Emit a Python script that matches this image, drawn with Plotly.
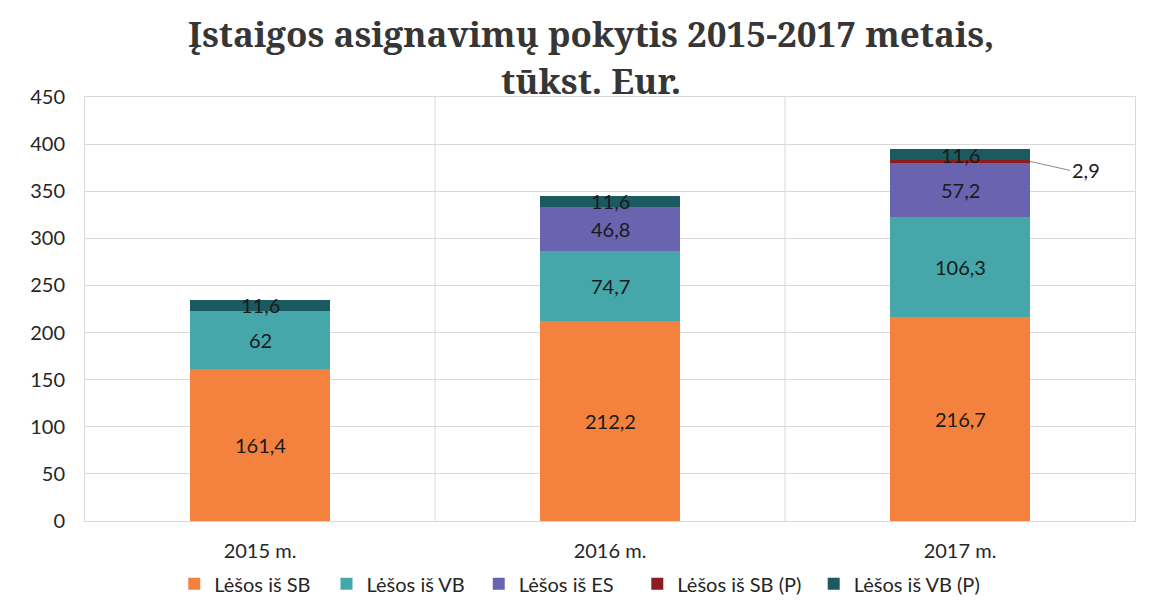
import plotly.graph_objects as go

categories = ["2015 m.", "2016 m.", "2017 m."]
series_names = ["Lėšos iš SB", "Lėšos iš VB", "Lėšos iš ES", "Lėšos iš SB (P)", "Lėšos iš VB (P)"]
sb = [161.4, 212.2, 216.7]
vb = [62, 74.7, 106.3]
es = [0, 46.8, 57.2]
sb_p = [0, 0, 2.9]
vb_p = [11.6, 11.6, 11.6]
colors = ["#F5813F", "#45A7AA", "#6A63AF", "#8C1C1E", "#1C5A62"]
y_ticks = [0, 50, 100, 150, 200, 250, 300, 350, 400, 450]
title_lines = ["Įstaigos asignavimų pokytis 2015-2017 metais,", "tūkst. Eur."]

series = [sb, vb, es, sb_p, vb_p]
legend_ids = ["legend", "legend2", "legend3", "legend4", "legend5"]
legend_x = [0.085, 0.230, 0.375, 0.526, 0.694]

fig = go.Figure()
for name, vals, col, lg in zip(series_names, series, colors, legend_ids):
    fig.add_trace(go.Bar(
        x=categories, y=vals, name=name,
        marker=dict(color=col, line=dict(width=0)),
        width=0.4, legend=lg,
    ))

def fmt(v):
    s = ("%g" % v)
    return s.replace(".", ",")

annotations = []
label_font = dict(family="Lato, sans-serif", size=20, color="#1a1a1a")
for ci, cat in enumerate(categories):
    base = 0
    for si, vals in enumerate(series):
        v = vals[ci]
        if v > 0:
            if si != 3:
                annotations.append(dict(x=cat, y=base + v / 2, text=fmt(v), showarrow=False,
                                        font=label_font, xref="x", yref="y"))
            else:
                annotations.append(dict(x=ci + 0.2, y=base + v / 2, text=fmt(v), showarrow=True,
                                        arrowhead=0, arrowwidth=1, arrowcolor="#8a8a8a",
                                        ax=40, ay=9, font=label_font, xref="x", yref="y",
                                        xanchor="left"))
        base += v

title_font = dict(family="Noto Serif, Liberation Serif, serif", size=35, color="#363636")
for line, ty in zip(title_lines, [1.150, 1.040]):
    annotations.append(dict(text="<b>" + line + "</b>", x=0.482, y=ty, xref="paper", yref="paper",
                            yanchor="middle", showarrow=False, align="center", font=title_font))

legend_common = dict(orientation="h", xanchor="left", y=-0.148, yanchor="middle",
                     font=dict(size=20, color="#262626"), itemwidth=30,
                     bgcolor="rgba(0,0,0,0)")

layout_legends = {}
for lg, lx in zip(legend_ids, legend_x):
    layout_legends[lg] = dict(legend_common, x=lx)

# page has an 8px body margin; figure sized to fill the rest of the window
fig.update_layout(
    barmode="stack",
    width=1146, height=608,
    margin=dict(l=77, r=19, t=89, b=95, autoexpand=False),
    paper_bgcolor="white", plot_bgcolor="white",
    font=dict(family="Lato, sans-serif", color="#262626"),
    annotations=annotations,
    showlegend=True,
    bargap=0.6,
    **layout_legends,
)
fig.update_yaxes(range=[0, 450], tickvals=y_ticks, showgrid=True, gridcolor="#d9d9d9", gridwidth=1,
                 tickfont=dict(size=20, color="#262626"), zeroline=False, automargin=False,
                 showline=True, linecolor="#d9d9d9", mirror=True, ticks="", ticklabelstandoff=15)
fig.update_xaxes(tickfont=dict(size=20, color="#262626"), showline=True, linecolor="#d9d9d9",
                 mirror=True, ticks="", showgrid=False, automargin=False, ticklabelstandoff=12)
for xb in [0.5, 1.5]:
    fig.add_shape(type="line", x0=xb, x1=xb, y0=0, y1=1, xref="x", yref="paper",
                  line=dict(color="#d9d9d9", width=1), layer="below")

fig.write_html("out.html")
